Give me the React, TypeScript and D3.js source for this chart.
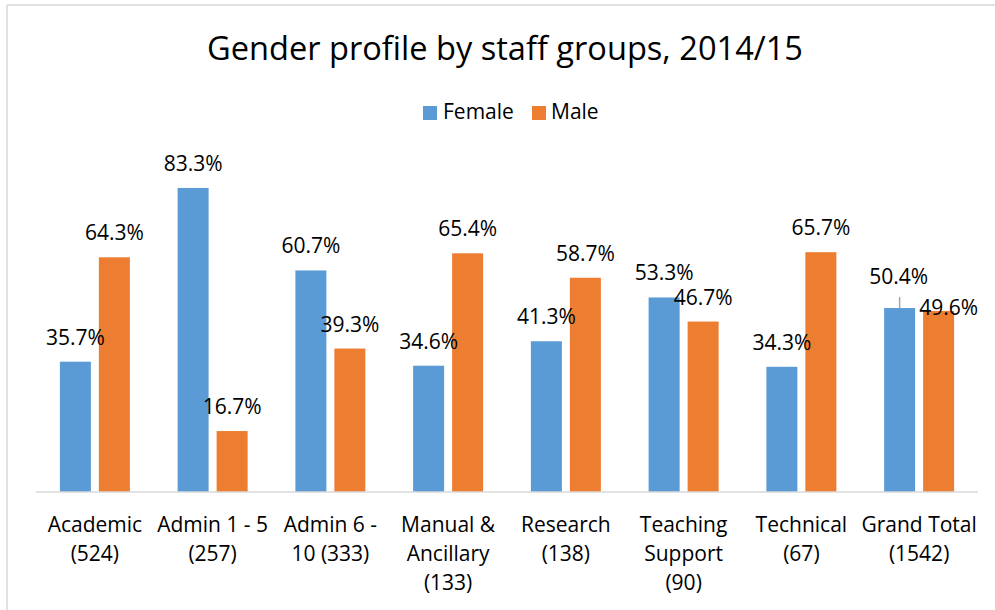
import React from 'react'
import { scaleBand, scaleLinear, format } from 'd3'

// data
const categories = [
  'Academic (524)',
  'Admin 1 - 5 (257)',
  'Admin 6 - 10 (333)',
  'Manual & Ancillary (133)',
  'Research (138)',
  'Teaching Support (90)',
  'Technical (67)',
  'Grand Total (1542)'
]
// how Excel wrapped each axis label
const tickLines = [
  ['Academic', '(524)'],
  ['Admin 1 - 5', '(257)'],
  ['Admin 6 -', '10 (333)'],
  ['Manual &', 'Ancillary', '(133)'],
  ['Research', '(138)'],
  ['Teaching', 'Support', '(90)'],
  ['Technical', '(67)'],
  ['Grand Total', '(1542)']
]
const female = [0.357, 0.833, 0.607, 0.346, 0.413, 0.533, 0.343, 0.504]
const male = [0.643, 0.167, 0.393, 0.654, 0.587, 0.467, 0.657, 0.496]
const seriesNames = ['Female', 'Male']
const colors = { Female: '#5B9BD5', Male: '#ED7D31' }

// labels that were dragged by hand in the original (series, category index, dx, dy)
const labelNudges = [
  { s: 'Female', i: 7, dx: -1, dy: -7, leader: true },
  { s: 'Male', i: 7, dx: 10, dy: 21, leader: false }
]

const W = 995
const H = 610
const FONT = "'Open Sans', sans-serif"

const App = () => {
  const x = scaleBand().domain(categories).range([36, 978])
  const x1 = scaleBand()
    .domain(seriesNames)
    .range([0, x.bandwidth()])
    .paddingInner(0.205)
    .paddingOuter(0.612)
  const y = scaleLinear().domain([0, 0.9]).range([492, 163.5])
  const pct = format('.1%')

  const series = [
    { name: 'Female', values: female },
    { name: 'Male', values: male }
  ]

  return (
    <svg width={W} height={H} style={{ position: 'absolute', left: 0, top: 0, fontFamily: FONT }}>
      <rect width={W} height={H} fill="#fff" />
      {/* chart frame, cut by the page edge */}
      <line x1={7} x2={W} y1={5} y2={5} stroke="#d9d9d9" strokeWidth={1.5} />
      <line x1={7} x2={7} y1={5} y2={H} stroke="#d9d9d9" strokeWidth={1.5} />

      <text x={505} y={60} textAnchor="middle" fontSize={32.6} fill="#000">
        Gender profile by staff groups, 2014/15
      </text>

      {/* legend */}
      <g fontSize={21} fill="#000">
        <rect x={423} y={106} width={14} height={14} fill={colors.Female} />
        <text x={443} y={119}>Female</text>
        <rect x={532} y={106} width={14} height={14} fill={colors.Male} />
        <text x={551} y={119}>Male</text>
      </g>

      {/* bars */}
      {series.map(s => (
        <g key={s.name} fill={colors[s.name]}>
          {s.values.map((v, i) => (
            <rect
              key={i}
              x={x(categories[i]) + x1(s.name)}
              y={y(v)}
              width={x1.bandwidth()}
              height={y(0) - y(v)}
            />
          ))}
        </g>
      ))}

      {/* axis line */}
      <line x1={36} x2={978} y1={492} y2={492} stroke="#d9d9d9" strokeWidth={1.5} />

      {/* data labels */}
      {series.map(s => (
        <g key={s.name} fontSize={21} fill="#000" textAnchor="middle">
          {s.values.map((v, i) => {
            const nudge = labelNudges.find(n => n.s === s.name && n.i === i)
            const cx = x(categories[i]) + x1(s.name) + x1.bandwidth() / 2
            const dx = nudge ? nudge.dx : 0
            const dy = nudge ? nudge.dy : 0
            return (
              <g key={i}>
                {nudge && nudge.leader && (
                  <line x1={cx} x2={cx} y1={y(v) - 14 + dy + 10} y2={y(v)} stroke="#a6a6a6" strokeWidth={1.5} />
                )}
                <text x={cx + dx} y={y(v) - 17 + dy}>{pct(v)}</text>
              </g>
            )
          })}
        </g>
      ))}

      {/* category labels */}
      <g fontSize={21} fill="#000" textAnchor="middle">
        {categories.map((c, i) => (
          <text key={c} x={x(c) + x.bandwidth() / 2} y={532}>
            {tickLines[i].map((line, j) => (
              <tspan key={j} x={x(c) + x.bandwidth() / 2} y={532 + j * 29}>{line}</tspan>
            ))}
          </text>
        ))}
      </g>
    </svg>
  )
}

export default App
